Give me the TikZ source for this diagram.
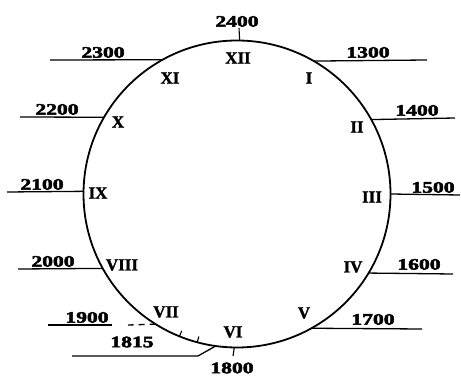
\documentclass[tikz,border=0pt]{standalone}
\usepackage{fontspec}
\setmainfont{Liberation Serif}
\newfontfamily\heavy[FakeBold=2.5]{Liberation Serif}
\newfontfamily\heavyb[FakeBold=1.5]{Liberation Serif}
\usetikzlibrary{calc}
\begin{document}
\begin{tikzpicture}[x=1pt,y=-1pt,
  yr/.style={font=\fontsize{16}{16}\heavy\bfseries, inner sep=0pt, xscale=1.35, anchor=south},
  hr/.style={font=\fontsize{17}{17}\heavyb\bfseries, inner sep=0pt},
  ln/.style={line width=1.3pt},
  tk/.style={line width=1.1pt}]
\useasboundingbox (0,0) rectangle (461,379);
\node[draw, circle, minimum size=307pt, inner sep=0pt, outer sep=0pt, line width=1.8pt] (C) at (237,194) {};
% end coordinates
\coordinate (e2400) at (239,28);
\coordinate (e1300) at (427,60);
\coordinate (e1400) at (455,118);
\coordinate (e1500) at (460,195);
\coordinate (e1600) at (453,274);
\coordinate (e1700) at (422,329);
\coordinate (e1800) at (233,356);
\coordinate (k1815) at (198,356);
\coordinate (e1815) at (72,356);
\coordinate (d1900) at (128,325);
\coordinate (g1900) at (112,325);
\coordinate (e1900) at (48,325);
\coordinate (e2000) at (18,269);
\coordinate (e2100) at (7,192);
\coordinate (e2200) at (20,117);
\coordinate (e2300) at (50,60);
% connectors
\draw[tk] (C.89.3) -- (e2400);
\draw[ln] (C.60.4) -- (e1300);
\draw[ln] (C.29.6) -- (e1400);
\draw[ln] (C.-0.4) -- (e1500);
\draw[ln] (C.-31.3) -- (e1600);
\draw[ln] (C.-61.2) -- (e1700);
\draw[tk] (C.-91.5) -- (e1800);
\draw[ln] (C.262.2) -- (k1815) -- (e1815);
\draw[ln, dash pattern=on 6pt off 5pt] (C.238.3) -- (d1900);
\draw[ln] (g1900) -- (e1900);
\draw[ln] (C.209.1) -- (e2000);
\draw[ln] (C.179.3) -- (e2100);
\draw[ln] (C.150) -- (e2200);
\draw[ln] (C.119.6) -- (e2300);
% small ticks between VII and VI
\foreach \a in {248,255} {
  \draw[tk] (C.\a) -- ($(C.\a)!6pt!(C.center)$);
}
% year labels
\node[yr] (t2400) at (237,27) {2400};
\node[yr] (t1300) at (368,58) {1300};
\node[yr] (t1400) at (417,116) {1400};
\node[yr] (t1500) at (433,193) {1500};
\node[yr] (t1600) at (419,270) {1600};
\node[yr] (t1700) at (373,325) {1700};
\node[yr, anchor=center] (t1800) at (232,368) {1800};
\node[yr, anchor=center] (t1815) at (132,342) {1815};
\node[yr] (t1900) at (87,323) {1900};
\node[yr] (t2000) at (53,267) {2000};
\node[yr] (t2100) at (42,190) {2100};
\node[yr] (t2200) at (57,115) {2200};
\node[yr] (t2300) at (103,58) {2300};
% hour numerals
\node[hr] (h12) at (238,58) {XII};
\node[hr] (h1) at (309,78) {I};
\node[hr] (h2) at (357,127) {II};
\node[hr] (h3) at (372,197) {III};
\node[hr] (h4) at (353,267) {IV};
\node[hr] (h5) at (304,313) {V};
\node[hr] (h6) at (233,332) {VI};
\node[hr] (h7) at (166,312) {VII};
\node[hr] (h8) at (122,265) {VIII};
\node[hr] (h9) at (98,193) {IX};
\node[hr] (h10) at (118,122) {X};
\node[hr] (h11) at (170,78) {XI};
\end{tikzpicture}
\end{document}
